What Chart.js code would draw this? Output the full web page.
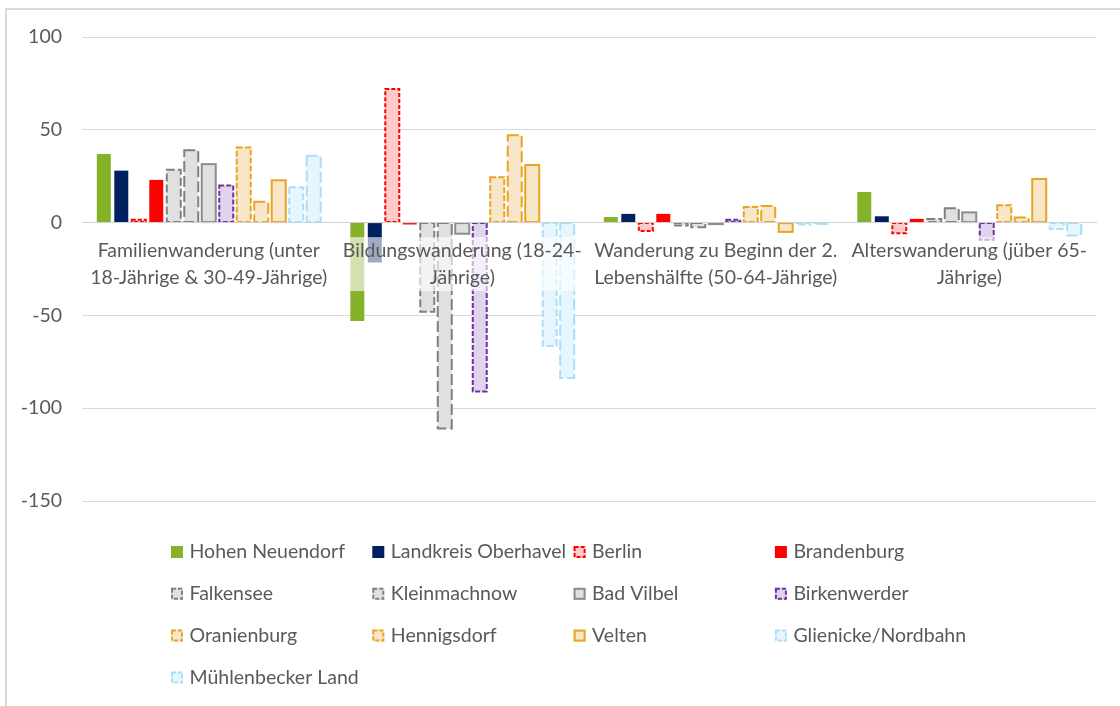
<!DOCTYPE html>
<html lang="de">
<head>
<meta charset="utf-8">
<title>Wanderungssalden nach Altersgruppen</title>
<script src="https://cdn.jsdelivr.net/npm/chart.js@4"></script>
<style>
  html, body { margin: 0; padding: 0; background: #fff; overflow: hidden; }
  .frame {
    position: absolute; left: 5px; top: 8px; width: 1300px; height: 900px;
    border-left: 2px solid #d9d9d9; border-top: 2px solid #d9d9d9;
  }
  #chart { position: absolute; left: 0; top: 0; }
</style>
</head>
<body>
<div class="frame"></div>
<canvas id="chart" width="1120" height="706"></canvas>
<script>
// categories (wrapped in two lines like the axis labels)
const categories = [
  ["Familienwanderung (unter", "18-Jährige & 30-49-Jährige)"],
  ["Bildungswanderung (18-24-", "Jährige)"],
  ["Wanderung zu Beginn der 2.", "Lebenshälfte (50-64-Jährige)"],
  ["Alterswanderung (jüber 65-", "Jährige)"]
];

const places = [
  "Hohen Neuendorf", "Landkreis Oberhavel", "Berlin", "Brandenburg",
  "Falkensee", "Kleinmachnow", "Bad Vilbel", "Birkenwerder",
  "Oranienburg", "Hennigsdorf", "Velten", "Glienicke/Nordbahn",
  "Mühlenbecker Land"
];

// saldo per category, one array per place
const hohenNeuendorf = [37, -53, 3, 16.5];
const landkreisOberhavel = [28, -21.5, 4.7, 3.4];
const berlin = [1.5, 72, -4.5, -5.7];
const brandenburg = [23, -1, 4.7, 2];
const falkensee = [28.5, -48, -1.5, 2];
const kleinmachnow = [39, -111, -2.5, 7.7];
const badVilbel = [31.5, -6, -0.8, 5.5];
const birkenwerder = [20, -91, 1.5, -9.3];
const oranienburg = [40.5, 24.5, 8.4, 9.4];
const hennigsdorf = [11.3, 47, 9, 2.8];
const velten = [22.8, 31, -5, 23.5];
const glienicke = [19, -66.5, -1, -3.4];
const muehlenbecker = [36, -83.7, -0.8, -7];

const series = [
  hohenNeuendorf, landkreisOberhavel, berlin, brandenburg,
  falkensee, kleinmachnow, badVilbel, birkenwerder,
  oranienburg, hennigsdorf, velten, glienicke, muehlenbecker
];

const yTicks = [100, 50, 0, -50, -100, -150];

// fill, outline colour and dash pattern of each place
const looks = [
  { fill: "#86b22a", edge: null, dash: [] },
  { fill: "#002060", edge: null, dash: [] },
  { fill: "#ffcaca", edge: "#ff0000", dash: [4, 2] },
  { fill: "#ff0000", edge: null, dash: [] },
  { fill: "#e0e0e0", edge: "#808080", dash: [8, 3] },
  { fill: "#e0e0e0", edge: "#808080", dash: [11, 4] },
  { fill: "#e0e0e0", edge: "#8c8c8c", dash: [] },
  { fill: "#e0d3ee", edge: "#7030a0", dash: [5, 2] },
  { fill: "#f8e6c8", edge: "#e8a425", dash: [6, 2] },
  { fill: "#f8e6c8", edge: "#e8a425", dash: [11, 4] },
  { fill: "#f8e6c8", edge: "#e8a425", dash: [] },
  { fill: "#e6f5fe", edge: "#a8dffa", dash: [7, 3] },
  { fill: "#e6f5fe", edge: "#a8dffa", dash: [11, 4] }
];

const FONT = "Lato";
const FONT_SIZE = 19.5;
const LINE_H = 27;
const GREY = "#595959";

// bar outlines (incl. dashed ones) drawn around each bar element,
// then the half-transparent white boxes behind the category labels
const barEdges = {
  id: "barEdges",
  afterDatasetsDraw(chart) {
    const ctx = chart.ctx;
    ctx.save();
    chart.data.datasets.forEach((ds, i) => {
      if (!ds.edge) return;
      const meta = chart.getDatasetMeta(i);
      ctx.strokeStyle = ds.edge;
      ctx.lineWidth = 2;
      ctx.setLineDash(ds.dash);
      meta.data.forEach((bar) => {
        const { x, y, base, width } = bar.getProps(["x", "y", "base", "width"], true);
        ctx.strokeRect(x - width / 2, Math.min(y, base), width, Math.abs(base - y));
      });
    });
    ctx.setLineDash([]);

    const xs = chart.scales.x;
    const top = chart.scales.y.getPixelForValue(0) + 14.5;
    ctx.font = FONT_SIZE + "px " + FONT;
    ctx.fillStyle = "rgba(255,255,255,0.62)";
    categories.forEach((lines, i) => {
      const w = Math.max(...lines.map((l) => ctx.measureText(l).width)) + 4;
      const cx = xs.getPixelForTick(i);
      ctx.fillRect(cx - w / 2, top, w, LINE_H * lines.length);
    });
    ctx.restore();
  }
};

// legend in a fixed 4-column grid under the plot
const gridLegend = {
  id: "gridLegend",
  afterDraw(chart) {
    const ctx = chart.ctx;
    ctx.save();
    ctx.font = FONT_SIZE + "px " + FONT;
    ctx.textBaseline = "middle";
    chart.data.datasets.forEach((ds, i) => {
      const x = 171 + (i % 4) * 201.3;
      const y = 552 + Math.floor(i / 4) * 41.8;
      ctx.fillStyle = ds.backgroundColor;
      ctx.fillRect(x, y - 6, 12, 12);
      if (ds.edge) {
        ctx.strokeStyle = ds.edge;
        ctx.lineWidth = 2;
        ctx.setLineDash(ds.dash.length ? [4, 2] : []);
        ctx.strokeRect(x + 1, y - 5, 10, 10);
        ctx.setLineDash([]);
      }
      ctx.fillStyle = GREY;
      ctx.fillText(ds.label, x + 18.5, y);
    });
    ctx.restore();
  }
};

const datasets = places.map((name, i) => ({
  label: name,
  data: series[i],
  backgroundColor: looks[i].fill,
  edge: looks[i].edge,
  dash: looks[i].dash,
  borderWidth: 0,
  barPercentage: 0.8,
  categoryPercentage: 0.897
}));

new Chart(document.getElementById("chart"), {
  type: "bar",
  data: { labels: categories, datasets: datasets },
  plugins: [barEdges, gridLegend],
  options: {
    responsive: false,
    animation: false,
    devicePixelRatio: 1,
    layout: { padding: { top: 37, bottom: 205, left: 0, right: 24 } },
    plugins: {
      legend: { display: false },
      tooltip: { enabled: false }
    },
    scales: {
      x: {
        position: { y: 0 },
        grid: { display: false, drawTicks: false },
        border: { color: "#d0d0d0", width: 1, z: 1 },
        ticks: {
          z: 1,
          color: GREY,
          font: { family: FONT, size: FONT_SIZE, lineHeight: LINE_H + "px" },
          padding: 15,
          maxRotation: 0,
          autoSkip: false
        }
      },
      y: {
        min: -150,
        max: 100,
        afterFit(scale) { scale.width = 82; },
        afterBuildTicks(scale) { scale.ticks = yTicks.map((v) => ({ value: v })); },
        grid: { color: "#d9d9d9", lineWidth: 1, drawTicks: false },
        border: { display: false },
        ticks: {
          color: GREY,
          font: { family: FONT, size: FONT_SIZE },
          padding: 20
        }
      }
    }
  }
});
</script>
</body>
</html>
